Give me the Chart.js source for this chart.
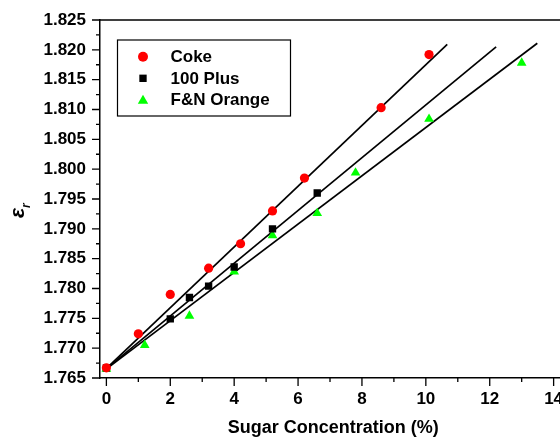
<!DOCTYPE html>
<html>
<head>
<meta charset="utf-8">
<script src="https://cdn.jsdelivr.net/npm/chart.js@4/dist/chart.umd.min.js"></script>
<style>
  html, body { margin: 0; padding: 0; background: #fff; overflow: hidden; }
  #wrap { width: 560px; height: 437px; overflow: hidden; position: relative; }
  canvas { display: block; }
</style>
</head>
<body>
<div id="wrap"><canvas id="c" width="572" height="437"></canvas></div>
<script>
// ---- data ----
const seriesNames = ['Coke', '100 Plus', 'F&N Orange'];

const cokeX = [0, 1, 2, 3.2, 4.2, 5.2, 6.2, 8.6, 10.1];
const cokeY = [1.7667, 1.7724, 1.7790, 1.7834, 1.7875, 1.7930, 1.7985, 1.8103, 1.8192];

const plusX = [0, 2, 2.6, 3.2, 4.0, 5.2, 6.6];
const plusY = [1.7667, 1.7749, 1.7785, 1.7804, 1.7836, 1.7900, 1.7960];

const orangeX = [0, 1.2, 2.6, 4.0, 5.2, 6.6, 7.8, 10.1, 13.0];
const orangeY = [1.7665, 1.7705, 1.7754, 1.7828, 1.7889, 1.7926, 1.7994, 1.8084, 1.8178];

// fitted straight lines (end points)
const cokeFitX = [-0.08, 10.67];
const cokeFitY = [1.7662, 1.8209];
const plusFitX = [-0.08, 12.2];
const plusFitY = [1.7662, 1.8205];
const orangeFitX = [-0.08, 13.49];
const orangeFitY = [1.7662, 1.8211];

const xTitle = 'Sugar Concentration (%)';
const yTitleMain = 'ε';
const yTitleSub = 'r';

const xMin = -0.2, xMax = 14.4, xStep = 1;
const yMin = 1.765, yMax = 1.825, yStep = 0.0025;

// ---- helpers ----
const pts = (xs, ys) => xs.map((x, i) => ({ x: x, y: ys[i] }));
const FONT = "'Liberation Sans', Arial, Helvetica, sans-serif";

const pointDS = (label, xs, ys, style, color, radius, legendRadius) => ({
  label: label,
  data: pts(xs, ys),
  showLine: false,
  pointStyle: style,
  pointRadius: radius,
  pointHoverRadius: radius,
  backgroundColor: color,
  borderColor: color,
  borderWidth: 0,
  isSeries: true,
  legendRadius: legendRadius
});
const fitDS = (xs, ys) => ({
  label: '_fit',
  data: pts(xs, ys),
  showLine: true,
  pointRadius: 0,
  pointHoverRadius: 0,
  borderColor: '#000',
  borderWidth: 1.7,
  fill: false,
  isSeries: false
});

const isMajorY = v => Math.round(v * 10000) % 50 === 0;
const isMajorX = v => Math.round(v) % 2 === 0;

// ---- plugin: minor/major tick marks, frame, legend box, y title ----
const decor = {
  id: 'decor',
  afterDraw(chart) {
    const ctx = chart.ctx;
    const ca = chart.chartArea;
    const xs = chart.scales.x, ys = chart.scales.y;
    ctx.save();
    ctx.strokeStyle = '#000';
    ctx.lineWidth = 1.5;
    // frame (top / right)
    ctx.beginPath();
    ctx.moveTo(ca.left, ca.top);
    ctx.lineTo(ca.right, ca.top);
    ctx.lineTo(ca.right, ca.bottom);
    ctx.stroke();
    // ticks
    ctx.lineWidth = 1.3;
    ctx.beginPath();
    ys.ticks.forEach(t => {
      const p = ys.getPixelForValue(t.value);
      const len = isMajorY(t.value) ? 8 : 4;
      ctx.moveTo(ca.left, p);
      ctx.lineTo(ca.left - len, p);
    });
    xs.ticks.forEach(t => {
      const p = xs.getPixelForValue(t.value);
      const len = isMajorX(t.value) ? 8 : 4;
      ctx.moveTo(p, ca.bottom);
      ctx.lineTo(p, ca.bottom + len);
    });
    ctx.stroke();

    // legend box
    const bx = 117.5, by = 40, bw = 173, bh = 76;
    ctx.lineWidth = 1.2;
    ctx.strokeStyle = '#000';
    ctx.strokeRect(bx, by, bw, bh);
    const rowY = [56.7, 78.3, 99.3];
    const series = chart.data.datasets.filter(d => d.isSeries);
    series.forEach((d, i) => {
      ctx.fillStyle = d.backgroundColor;
      ctx.strokeStyle = d.backgroundColor;
      Chart.helpers.drawPoint(ctx, {
        pointStyle: d.pointStyle,
        radius: d.legendRadius,
        rotation: 0,
        borderWidth: 0
      }, 143, rowY[i] + (d.pointStyle === 'triangle' ? 1.5 : 0));
      ctx.fillStyle = '#000';
      ctx.font = 'bold 17px ' + FONT;
      ctx.textBaseline = 'middle';
      ctx.textAlign = 'left';
      ctx.fillText(d.label, 170.5, rowY[i] + 1);
    });

    // y axis title: epsilon with subscript r, rotated
    ctx.fillStyle = '#000';
    ctx.translate(18, 213);
    ctx.rotate(-Math.PI / 2);
    ctx.textAlign = 'center';
    ctx.textBaseline = 'middle';
    ctx.font = 'italic bold 21px ' + FONT;
    ctx.fillText(yTitleMain, 0, 0);
    ctx.textAlign = 'left';
    ctx.font = 'italic bold 12px ' + FONT;
    ctx.fillText(yTitleSub, 5, 9);
    ctx.restore();
  }
};

Chart.defaults.color = '#000';

const chart = new Chart(document.getElementById('c'), {
  type: 'scatter',
  data: {
    datasets: [
      pointDS(seriesNames[0], cokeX, cokeY, 'circle', '#ff0000', 4.6, 5),
      pointDS(seriesNames[1], plusX, plusY, 'rect', '#000000', 5.2, 5.2),
      pointDS(seriesNames[2], orangeX, orangeY, 'triangle', '#00ff00', 5.6, 6),
      fitDS(cokeFitX, cokeFitY),
      fitDS(plusFitX, plusFitY),
      fitDS(orangeFitX, orangeFitY)
    ]
  },
  options: {
    responsive: false,
    animation: false,
    events: [],
    layout: { padding: { top: 20, right: 4.8, left: 0, bottom: 0 } },
    plugins: {
      legend: { display: false },
      tooltip: { enabled: false },
      title: { display: false }
    },
    scales: {
      x: {
        type: 'linear',
        min: xMin, max: xMax,
        afterFit(s) { s.height = 59; },
        border: { display: true, color: '#000', width: 1.5 },
        grid: { display: true, drawOnChartArea: false, drawTicks: true, tickLength: 8, tickColor: 'rgba(0,0,0,0)' },
        ticks: {
          stepSize: xStep,
          includeBounds: false,
          autoSkip: false,
          maxRotation: 0,
          padding: 3,
          color: '#000',
          font: { family: FONT, size: 17, weight: 'bold' },
          callback: v => isMajorX(v) ? String(Math.round(v)) : ''
        },
        title: {
          display: true,
          text: xTitle,
          color: '#000',
          padding: { top: 0, bottom: 0 },
          font: { family: FONT, size: 18, weight: 'bold', lineHeight: 1 }
        }
      },
      y: {
        type: 'linear',
        min: yMin, max: yMax,
        afterFit(s) { s.width = 100; },
        border: { display: true, color: '#000', width: 1.5 },
        grid: { display: true, drawOnChartArea: false, drawTicks: true, tickLength: 8, tickColor: 'rgba(0,0,0,0)' },
        ticks: {
          stepSize: yStep,
          includeBounds: false,
          autoSkip: false,
          padding: 6,
          color: '#000',
          font: { family: FONT, size: 17, weight: 'bold' },
          callback: v => isMajorY(v) ? (Math.round(v * 10000) / 10000).toFixed(3) : ''
        }
      }
    }
  },
  plugins: [decor]
});
</script>
</body>
</html>
